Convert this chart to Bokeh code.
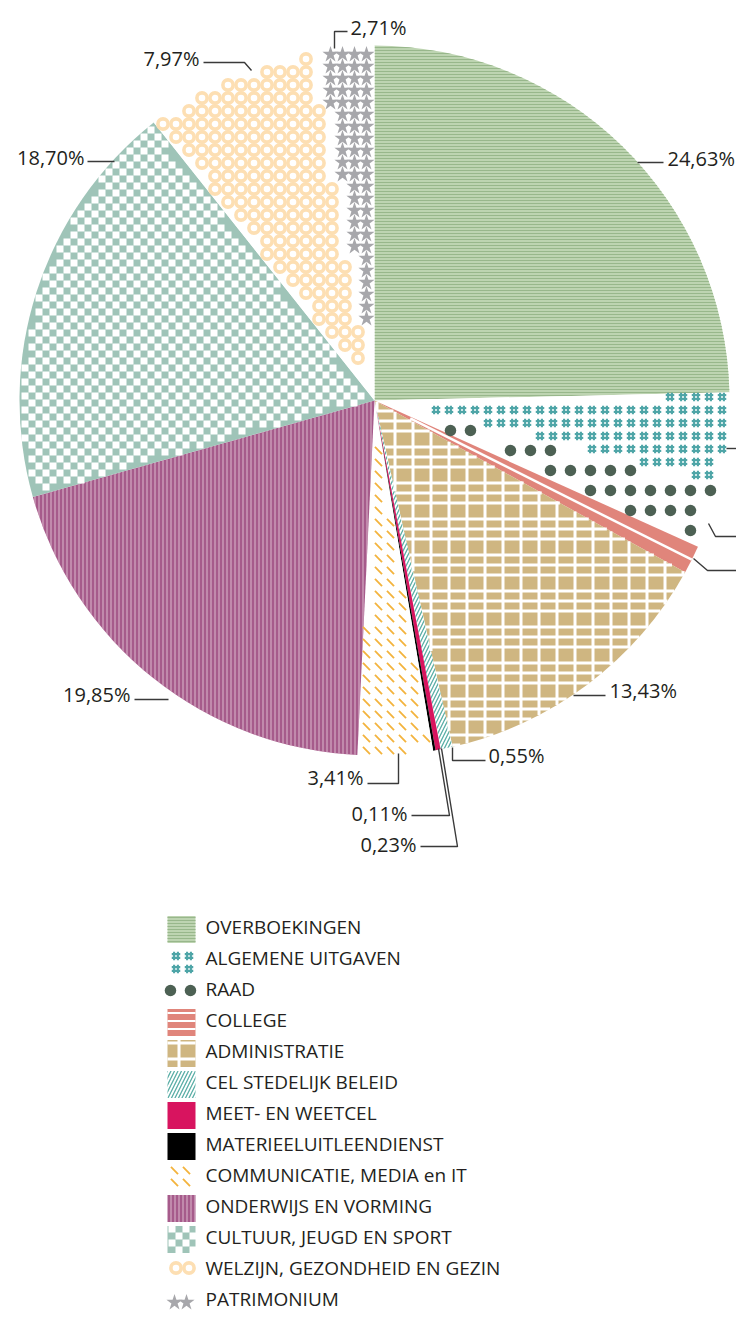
import numpy as np
from bokeh.plotting import figure
from bokeh.models import ColumnDataSource, Range1d
from bokeh.core.properties import value
from bokeh.embed import file_html
from bokeh.resources import INLINE

# ---------------- data ----------------
categories = [
    "OVERBOEKINGEN", "ALGEMENE UITGAVEN", "RAAD", "COLLEGE", "ADMINISTRATIE",
    "CEL STEDELIJK BELEID", "MEET- EN WEETCEL", "MATERIEELUITLEENDIENST",
    "COMMUNICATIE, MEDIA en IT", "ONDERWIJS EN VORMING", "CULTUUR, JEUGD EN SPORT",
    "WELZIJN, GEZONDHEID EN GEZIN", "PATRIMONIUM",
]
shares = [24.63, 4.27, 2.86, 1.28, 13.43, 0.55, 0.23, 0.11, 3.41, 19.85, 18.70, 7.97, 2.71]
label_visible = [True, False, False, False, True, True, True, True, True, True, True, True, True]

# ---------------- styles ----------------
fill_colors = ["#bdd4b1", "#ffffff", "#ffffff", "#e0857b", "#cfb681", "#ffffff", "#d8145f",
               "#000000", "#ffffff", "#a65b8b", "#9fc4b8", "#ffffff", "#ffffff"]
hatch_patterns = ["horizontal_line", None, None, None, None, "right_diagonal_line",
                  None, None, None, "vertical_line", None, None, None]
hatch_colors = ["#98b78b", None, None, None, None, "#5aaea6", None, None, None, "#dcb9cd",
                None, None, None]
hatch_scales = [3, 0, 0, 0, 0, 7, 0, 0, 0, 4, 0, 0, 0]
hatch_weights = [1, 0, 0, 0, 0, 1.3, 0, 0, 0, 1, 0, 0, 0]
mark_patterns = [None, "hash", "dots", "stripe", "grid", None, None, None, "dashes", None,
                 "checker", "rings", "stars"]

# ---------------- layout (picture pixel coordinates) ----------------
W, H = 736, 1313
def Y(py):
    return H - np.asarray(py, dtype=float)

CX, CY, R = 374, 400, 355

label_pos = {
    0: (667, 158, "left"),
    4: (609, 690, "left"),
    5: (488, 755, "left"),
    6: (416, 844, "right"),
    7: (407, 813, "right"),
    8: (363, 777, "right"),
    9: (130, 694, "right"),
    10: (84, 157, "right"),
    11: (199, 58, "right"),
    12: (350, 27, "left"),
}
leaders = {
    0: [(637, 162), (663, 162)],
    1: [(726, 448), (744, 448)],
    2: [(708, 523), (715, 536), (744, 536)],
    3: [(693, 558), (707, 570), (744, 570)],
    4: [(573, 695), (605, 695)],
    5: [(452, 747), (452, 760), (485, 760)],
    6: [(441, 748), (457, 846), (420, 846)],
    7: [(438, 748), (449, 815), (411, 815)],
    8: [(398, 753), (398, 783), (367, 783)],
    9: [(168, 699), (134, 699)],
    10: [(114, 161), (87, 161)],
    11: [(251, 70), (244, 62), (203, 62)],
    12: [(334, 48), (334, 31), (347, 31)],
}

# ---------------- figure ----------------
p = figure(width=W, height=H, output_backend="svg", toolbar_location=None,
           x_range=Range1d(0, W), y_range=Range1d(0, H),
           x_axis_type=None, y_axis_type=None, min_border=0)
p.outline_line_color = None
p.background_fill_color = "white"
p.border_fill_color = "white"

vals = np.array(shares, dtype=float)
frac = vals / vals.sum()
cum = np.concatenate([[0.0], np.cumsum(frac)])
start = np.pi / 2 - 2 * np.pi * cum[:-1]
end = np.pi / 2 - 2 * np.pi * cum[1:]


def base_kw(i, legend=False):
    kw = dict(fill_color=fill_colors[i], line_color=None)
    hp = hatch_patterns[i]
    hc, hs, hw = hatch_colors[i], hatch_scales[i], hatch_weights[i]
    if legend and mark_patterns[i] == "stripe":
        hp, hc, hs, hw = "horizontal_line", "#ffffff", 8, 2
    if hp is not None:
        kw.update(hatch_pattern=hp, hatch_color=hc, hatch_scale=hs, hatch_weight=hw)
    return kw


# ---- region helpers (page coordinates) ----
def wedge_inside(i):
    s, e = start[i], end[i]
    def f(px, py):
        vx = px - CX
        vy = CY - py
        r = np.hypot(vx, vy)
        c1 = np.cos(s) * vy - np.sin(s) * vx
        c2 = np.cos(e) * vy - np.sin(e) * vx
        return (r <= R) & (c1 <= 0) & (c2 >= 0)
    return f


def rect_inside(x0, x1, y0, y1):
    def f(px, py):
        return (px >= x0) & (px <= x1) & (py >= y0) & (py <= y1)
    return f


def clip_wedge(i):
    s, e = start[i], end[i]
    ds = (np.cos(s), np.sin(s))
    de = (np.cos(e), np.sin(e))
    def f(p0, p1):
        a = np.array([p0[0] - CX, CY - p0[1]], float)
        b = np.array([p1[0] - CX, CY - p1[1]], float)
        d = b - a
        lo, hi = 0.0, 1.0
        A = d @ d
        B = 2 * (a @ d)
        C = a @ a - R * R
        disc = B * B - 4 * A * C
        if disc <= 0:
            return None
        sq = np.sqrt(disc)
        lo = max(lo, (-B - sq) / (2 * A))
        hi = min(hi, (-B + sq) / (2 * A))
        for u, sign in ((ds, 1.0), (de, -1.0)):
            f0 = sign * (u[0] * a[1] - u[1] * a[0])
            fd = sign * (u[0] * d[1] - u[1] * d[0])
            if abs(fd) < 1e-12:
                if f0 > 0:
                    return None
            elif fd > 0:
                hi = min(hi, -f0 / fd)
            else:
                lo = max(lo, -f0 / fd)
        if hi <= lo:
            return None
        q0, q1 = a + lo * d, a + hi * d
        return (CX + q0[0], CY - q0[1]), (CX + q1[0], CY - q1[1])
    return f


def clip_rect(x0, x1, y0, y1):
    def f(p0, p1):
        if p0[0] == p1[0]:
            if not (x0 <= p0[0] <= x1):
                return None
            return (p0[0], max(y0, min(p0[1], p1[1]))), (p0[0], min(y1, max(p0[1], p1[1])))
        if not (y0 <= p0[1] <= y1):
            return None
        return (max(x0, min(p0[0], p1[0])), p0[1]), (min(x1, max(p0[0], p1[0])), p0[1])
    return f


def grid_pts(inside, h, bbox, step, offsets):
    x0, x1, y0, y1 = bbox
    ox_all, oy_all = [], []
    for ox, oy in offsets:
        xs = np.arange(np.floor((x0 - ox) / step) * step + ox, x1 + step, step)
        ys = np.arange(np.floor((y0 - oy) / step) * step + oy, y1 + step, step)
        gx, gy = np.meshgrid(xs, ys)
        gx, gy = gx.ravel(), gy.ravel()
        m = inside(gx, gy)
        for sx in (-h, h):
            for sy in (-h, h):
                m &= inside(gx + sx, gy + sy)
        ox_all.append(gx[m])
        oy_all.append(gy[m])
    return np.concatenate(ox_all), np.concatenate(oy_all)


def draw_pattern(kind, inside, clip_fn, bbox):
    if kind == "hash":
        cx, cy = grid_pts(inside, 3.0, bbox, 13, [(6.5, 6.5)])
        o = 1.9
        p.scatter(np.concatenate([cx, cx]), Y(np.concatenate([cy - o, cy + o])), marker="dash",
                  size=8.5, line_color="#4ea5a7", line_width=2.1)
        p.scatter(np.concatenate([cx - o, cx + o]), Y(np.concatenate([cy, cy])), marker="dash",
                  angle=np.pi / 2, size=8.5, line_color="#4ea5a7", line_width=2.1)
    elif kind == "dots":
        cx, cy = grid_pts(inside, 3.0, bbox, 20, [(10, 10)])
        p.scatter(cx, Y(cy), marker="circle", size=11.5, fill_color="#4d6154", line_color=None)
    elif kind == "rings":
        cx, cy = grid_pts(inside, 4.0, bbox, 13, [(6.5, 6.5)])
        p.scatter(cx, Y(cy), marker="circle", size=10.2, fill_color=None,
                  line_color="#fddfb3", line_width=3.6)
    elif kind == "stars":
        cx, cy = grid_pts(inside, 5.0, bbox, 12, [(6, 6)])
        p.scatter(cx, Y(cy), marker="star", size=17, fill_color="#a7a7ab", line_color=None)
    elif kind == "checker":
        cx, cy = grid_pts(inside, 2.5, bbox, 14, [(10.5, 3.5), (3.5, 10.5)])
        p.scatter(cx, Y(cy), marker="square", size=7, fill_color="#ffffff", line_color=None)
    elif kind == "dashes":
        cx, cy = grid_pts(inside, 2.5, bbox, 12, [(6, 6)])
        p.scatter(cx, Y(cy), marker="dash", angle=-np.pi / 4, size=10,
                  line_color="#f3b33d", line_width=1.8)
    elif kind == "grid":
        x0, x1, y0, y1 = bbox
        segs = []
        for k in np.arange(np.floor(y0 / 36) * 36, y1 + 36, 36):
            for off in (14.5, 24.5, 34.5):
                r = clip_fn((x0 - 5, k + off), (x1 + 5, k + off))
                if r:
                    segs.append(r)
        for k in np.arange(np.floor(x0 / 18) * 18, x1 + 18, 18):
            r = clip_fn((k + 16.5, y0 - 5), (k + 16.5, y1 + 5))
            if r:
                segs.append(r)
        if segs:
            p.segment(x0=[s_[0][0] for s_ in segs], y0=Y([s_[0][1] for s_ in segs]),
                      x1=[s_[1][0] for s_ in segs], y1=Y([s_[1][1] for s_ in segs]),
                      line_color="#ffffff", line_width=3)


# ---- pie ----
for i, cat in enumerate(categories):
    src = ColumnDataSource(dict(cat=[cat], start=[start[i]], end=[end[i]]))
    p.wedge(x=CX, y=Y(CY), radius=R, start_angle="start", end_angle="end",
            direction="clock", source=src, **base_kw(i))

pie_bbox = (CX - R, CX + R, CY - R, CY + R)
for i, kind in enumerate(mark_patterns):
    if kind is None:
        continue
    if kind == "stripe":
        mid = 0.5 * (start[i] + end[i])
        p.segment(x0=[CX + 40 * np.cos(mid)], y0=[Y(CY) + 40 * np.sin(mid)],
                  x1=[CX + R * np.cos(mid)], y1=[Y(CY) + R * np.sin(mid)],
                  line_color="#ffffff", line_width=2.5)
        continue
    draw_pattern(kind, wedge_inside(i), clip_wedge(i), pie_bbox)

# ---- leader lines ----
xs, ys = [], []
for i in range(len(categories)):
    if i in leaders:
        xs.append([pt[0] for pt in leaders[i]])
        ys.append(list(Y([pt[1] for pt in leaders[i]])))
p.multi_line(xs=xs, ys=ys, line_color="#3a3a3a", line_width=1.4)

# ---- percentage labels ----
for align in ("left", "right"):
    lx, ly, lt = [], [], []
    for i, v in enumerate(shares):
        if label_visible[i] and label_pos[i][2] == align:
            lx.append(label_pos[i][0])
            ly.append(float(Y(label_pos[i][1])))
            lt.append(f"{v:.2f}".replace(".", ",") + "%")
    p.text(x=lx, y=ly, text=lt, text_font=value("Open Sans"), text_font_size="20px",
           text_align=align, text_baseline="middle", text_color="#231f20")

# ---- legend ----
row_y = [926 + 31.0 * i for i in range(len(categories))]
SW_X0, SW_X1, SW_H = 167, 195, 27
for i, cat in enumerate(categories):
    cy = row_y[i] + 3
    lsrc = ColumnDataSource(dict(x=[(SW_X0 + SW_X1) / 2], y=[float(Y(cy))], cat=[cat]))
    p.rect(x="x", y="y", width=SW_X1 - SW_X0, height=SW_H, source=lsrc, **base_kw(i, legend=True))
    kind = mark_patterns[i]
    if kind is not None and kind != "stripe":
        y0, y1 = cy - SW_H / 2, cy + SW_H / 2
        draw_pattern(kind, rect_inside(SW_X0, SW_X1, y0, y1),
                     clip_rect(SW_X0, SW_X1, y0, y1), (SW_X0, SW_X1, y0, y1))

tsrc = ColumnDataSource(dict(tx=[205] * len(categories), ty=list(Y(row_y)), cat=categories))
p.text(x="tx", y="ty", text="cat", source=tsrc, text_font=value("Open Sans"),
       text_font_size="19px", text_align="left", text_baseline="middle", text_color="#231f20")

open("out.html", "w").write(file_html(p, INLINE))
